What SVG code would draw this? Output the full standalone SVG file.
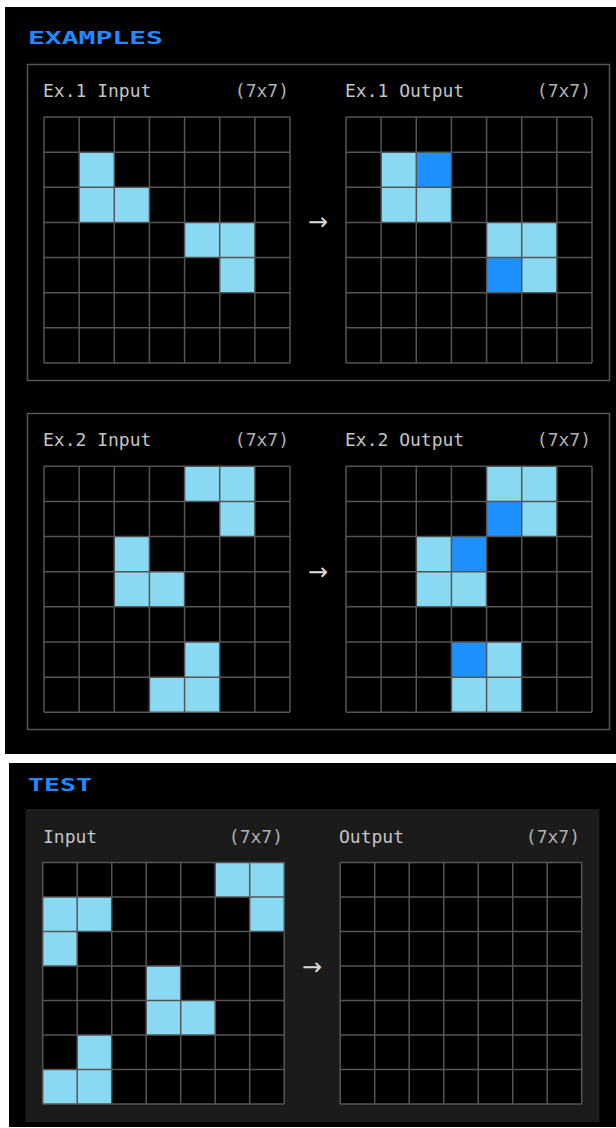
<svg xmlns="http://www.w3.org/2000/svg" width="616" height="1128" viewBox="0 0 616 1128">
<style>
.lbl{font-family:"DejaVu Sans Mono","Liberation Mono",monospace;font-size:18px;fill:#c4c4c4}
.dim{font-family:"DejaVu Sans Mono","Liberation Mono",monospace;font-size:18px;fill:#b0b0b0;text-anchor:end}
.hdr{font-family:"DejaVu Sans Mono","Liberation Mono",monospace;font-weight:bold;font-size:17px;fill:#1f8bff}
.box{fill:none;stroke:#555;stroke-width:1.5}
.gl{fill:none;stroke:#555;stroke-width:1.5}
.l{fill:#89d9f2}
.d{fill:#1e90ff}
.arr{font-family:"DejaVu Sans",sans-serif;font-size:24px;fill:#d8d8d8;text-anchor:middle}
</style>
<defs>
<path id="gA" class="gl" d="M0 0H246M0 35.14H246M0 70.29H246M0 105.43H246M0 140.57H246M0 175.71H246M0 210.86H246M0 246H246M0 0V246M35.14 0V246M70.29 0V246M105.43 0V246M140.57 0V246M175.71 0V246M210.86 0V246M246 0V246"/>
<path id="gB" class="gl" d="M0 0H241.5M0 34.5H241.5M0 69H241.5M0 103.5H241.5M0 138H241.5M0 172.5H241.5M0 207H241.5M0 241.5H241.5M0 0V241.5M34.5 0V241.5M69 0V241.5M103.5 0V241.5M138 0V241.5M172.5 0V241.5M207 0V241.5M241.5 0V241.5"/>
</defs>
<rect x="0" y="0" width="616" height="1128" fill="#ffffff"/>
<rect x="5" y="7" width="611" height="747" fill="#000"/>
<rect x="9" y="763" width="607" height="364" fill="#000"/>

<g id="examples-title"><text class="hdr" x="28" y="44" textLength="135" lengthAdjust="spacingAndGlyphs">EXAMPLES</text></g>

<g id="example1">
<rect class="box" x="27.5" y="64.5" width="582" height="316"/>
<text class="lbl" x="43" y="97">Ex.1 Input</text>
<text class="dim" x="289" y="97">(7x7)</text>
<text class="lbl" x="345" y="97">Ex.1 Output</text>
<text class="dim" x="591" y="97">(7x7)</text>
<g id="ex1-input" transform="translate(44,117)">
<rect width="246" height="246" fill="#000"/>
<rect class="l" x="35.14" y="35.14" width="35.14" height="35.14"/>
<rect class="l" x="35.14" y="70.29" width="35.14" height="35.14"/>
<rect class="l" x="70.29" y="70.29" width="35.14" height="35.14"/>
<rect class="l" x="140.57" y="105.43" width="35.14" height="35.14"/>
<rect class="l" x="175.71" y="105.43" width="35.14" height="35.14"/>
<rect class="l" x="175.71" y="140.57" width="35.14" height="35.14"/>
<use href="#gA"/>
</g>
<g id="ex1-output" transform="translate(346,117)">
<rect width="246" height="246" fill="#000"/>
<rect class="l" x="35.14" y="35.14" width="35.14" height="35.14"/>
<rect class="d" x="70.29" y="35.14" width="35.14" height="35.14"/>
<rect class="l" x="35.14" y="70.29" width="35.14" height="35.14"/>
<rect class="l" x="70.29" y="70.29" width="35.14" height="35.14"/>
<rect class="l" x="140.57" y="105.43" width="35.14" height="35.14"/>
<rect class="l" x="175.71" y="105.43" width="35.14" height="35.14"/>
<rect class="d" x="140.57" y="140.57" width="35.14" height="35.14"/>
<rect class="l" x="175.71" y="140.57" width="35.14" height="35.14"/>
<use href="#gA"/>
</g>
</g>

<g id="example2">
<rect class="box" x="27.5" y="413.5" width="582" height="316"/>
<text class="lbl" x="43" y="446">Ex.2 Input</text>
<text class="dim" x="289" y="446">(7x7)</text>
<text class="lbl" x="345" y="446">Ex.2 Output</text>
<text class="dim" x="591" y="446">(7x7)</text>
<g id="ex2-input" transform="translate(44,466.3)">
<rect width="246" height="246" fill="#000"/>
<rect class="l" x="140.57" y="0" width="35.14" height="35.14"/>
<rect class="l" x="175.71" y="0" width="35.14" height="35.14"/>
<rect class="l" x="175.71" y="35.14" width="35.14" height="35.14"/>
<rect class="l" x="70.29" y="70.29" width="35.14" height="35.14"/>
<rect class="l" x="70.29" y="105.43" width="35.14" height="35.14"/>
<rect class="l" x="105.43" y="105.43" width="35.14" height="35.14"/>
<rect class="l" x="140.57" y="175.71" width="35.14" height="35.14"/>
<rect class="l" x="105.43" y="210.86" width="35.14" height="35.14"/>
<rect class="l" x="140.57" y="210.86" width="35.14" height="35.14"/>
<use href="#gA"/>
</g>
<g id="ex2-output" transform="translate(346,466.3)">
<rect width="246" height="246" fill="#000"/>
<rect class="l" x="140.57" y="0" width="35.14" height="35.14"/>
<rect class="l" x="175.71" y="0" width="35.14" height="35.14"/>
<rect class="d" x="140.57" y="35.14" width="35.14" height="35.14"/>
<rect class="l" x="175.71" y="35.14" width="35.14" height="35.14"/>
<rect class="l" x="70.29" y="70.29" width="35.14" height="35.14"/>
<rect class="d" x="105.43" y="70.29" width="35.14" height="35.14"/>
<rect class="l" x="70.29" y="105.43" width="35.14" height="35.14"/>
<rect class="l" x="105.43" y="105.43" width="35.14" height="35.14"/>
<rect class="d" x="105.43" y="175.71" width="35.14" height="35.14"/>
<rect class="l" x="140.57" y="175.71" width="35.14" height="35.14"/>
<rect class="l" x="105.43" y="210.86" width="35.14" height="35.14"/>
<rect class="l" x="140.57" y="210.86" width="35.14" height="35.14"/>
<use href="#gA"/>
</g>
</g>

<g id="test-title"><text class="hdr" x="28" y="791" textLength="64" lengthAdjust="spacingAndGlyphs">TEST</text></g>

<g id="test">
<rect x="25.3" y="809" width="574" height="313" fill="#1b1b1b"/>
<text class="lbl" x="43" y="843">Input</text>
<text class="dim" x="283" y="843">(7x7)</text>
<text class="lbl" x="339" y="843">Output</text>
<text class="dim" x="580" y="843">(7x7)</text>
<g id="test-input" transform="translate(42.7,862.5)">
<rect width="241.5" height="241.5" fill="#000"/>
<rect class="l" x="172.5" y="0" width="34.5" height="34.5"/>
<rect class="l" x="207" y="0" width="34.5" height="34.5"/>
<rect class="l" x="0" y="34.5" width="34.5" height="34.5"/>
<rect class="l" x="34.5" y="34.5" width="34.5" height="34.5"/>
<rect class="l" x="207" y="34.5" width="34.5" height="34.5"/>
<rect class="l" x="0" y="69" width="34.5" height="34.5"/>
<rect class="l" x="103.5" y="103.5" width="34.5" height="34.5"/>
<rect class="l" x="103.5" y="138" width="34.5" height="34.5"/>
<rect class="l" x="138" y="138" width="34.5" height="34.5"/>
<rect class="l" x="34.5" y="172.5" width="34.5" height="34.5"/>
<rect class="l" x="0" y="207" width="34.5" height="34.5"/>
<rect class="l" x="34.5" y="207" width="34.5" height="34.5"/>
<use href="#gB"/>
</g>
<g id="test-output" transform="translate(340.2,862.5)">
<rect width="241.5" height="241.5" fill="#000"/>
<use href="#gB"/>
</g>
</g>

<g id="connectors">
<text class="arr" x="318" y="230">→</text>
<text class="arr" x="318" y="580">→</text>
<text class="arr" x="312" y="975">→</text>
</g>
</svg>
